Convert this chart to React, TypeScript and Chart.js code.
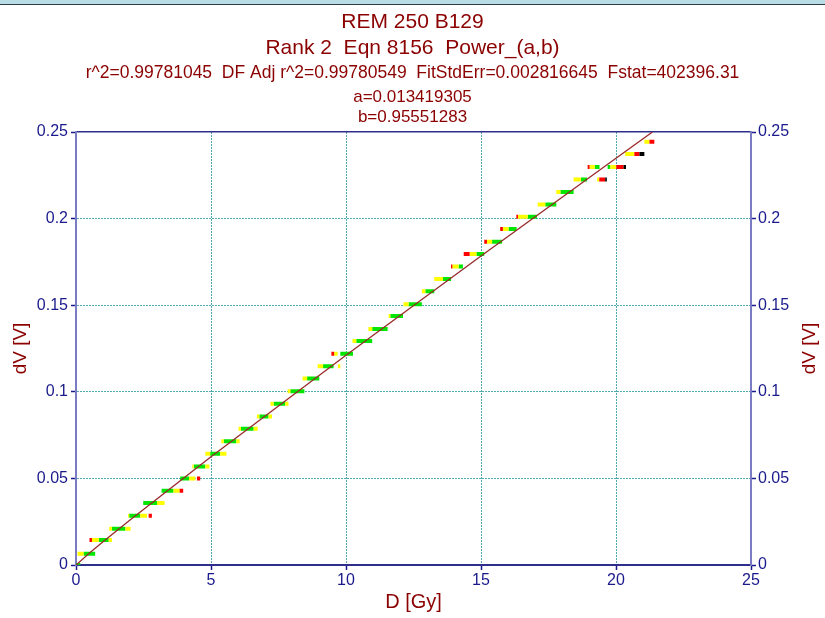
import { useEffect, useRef } from 'react';
import { Chart, registerables } from 'chart.js';

Chart.register(...registerables);

const titleLines = [
  'REM 250 B129',
  'Rank 2  Eqn 8156  Power_(a,b)',
  'r^2=0.99781045  DF Adj r^2=0.99780549  FitStdErr=0.002816645  Fstat=402396.31',
  'a=0.013419305',
  'b=0.95551283',
];
const xTitle = 'D [Gy]';
const yTitle = 'dV [V]';

// levels of the quantised dV readings
const levelV = [
  0, 0.0065, 0.0144, 0.021, 0.0285, 0.0358, 0.0429, 0.05, 0.0569, 0.0643,
  0.0715, 0.0787, 0.0858, 0.0931, 0.1003, 0.1077, 0.1147, 0.122, 0.1293, 0.1363,
  0.1438, 0.1506, 0.158, 0.1651, 0.1724, 0.1796, 0.1867, 0.194, 0.201, 0.2082,
  0.2154, 0.2226, 0.2298, 0.2373, 0.2443,
];

// [level index, D start, D end]
const greenSegs: [number, number, number][] = [
  [0, 0, 0.16], [1, 0.28, 0.71], [2, 0.84, 1.21], [3, 1.33, 1.83], [4, 1.97, 2.38],
  [5, 2.49, 3.0], [6, 3.17, 3.61], [7, 3.86, 4.19], [8, 4.36, 4.79], [9, 4.97, 5.34],
  [10, 5.47, 5.94], [11, 6.11, 6.58], [12, 6.79, 7.13], [13, 7.32, 7.75], [14, 7.94, 8.46],
  [15, 8.56, 9.01], [16, 9.15, 9.54], [17, 9.79, 10.26], [18, 10.38, 10.97], [19, 10.97, 11.54],
  [20, 11.64, 12.11], [21, 12.32, 12.81], [22, 12.94, 13.27], [23, 13.59, 13.89], [24, 14.17, 14.33],
  [25, 14.83, 15.12], [26, 15.41, 15.78], [27, 16.02, 16.32], [28, 16.73, 17.07], [29, 17.38, 17.79],
  [30, 17.94, 18.43], [31, 18.7, 18.93], [32, 19.21, 19.39], [32, 19.69, 19.79],
];
const yellowSegs: [number, number, number][] = [
  [1, 0.06, 0.28], [2, 0.59, 0.84], [2, 1.21, 1.33], [3, 1.23, 1.33], [3, 1.83, 2.02],
  [4, 1.93, 1.97], [4, 2.38, 2.63], [5, 3.0, 3.28], [6, 3.61, 3.84], [7, 4.19, 4.42],
  [8, 4.31, 4.36], [8, 4.79, 4.94], [9, 4.79, 4.97], [9, 5.34, 5.57], [10, 5.38, 5.47],
  [10, 5.94, 6.06], [11, 6.02, 6.11], [11, 6.58, 6.73], [12, 6.7, 6.79], [12, 7.13, 7.26],
  [13, 7.2, 7.32], [13, 7.75, 7.87], [14, 7.84, 7.94], [15, 8.39, 8.56], [16, 8.95, 9.15],
  [16, 9.7, 9.79], [17, 9.56, 9.69], [18, 10.24, 10.38], [19, 10.83, 10.97], [20, 11.58, 11.64],
  [21, 12.13, 12.32], [22, 12.81, 12.94], [23, 13.27, 13.59], [24, 13.94, 14.17], [25, 14.58, 14.83],
  [26, 15.22, 15.41], [27, 15.81, 16.02], [28, 16.37, 16.73], [29, 17.1, 17.38], [30, 17.79, 17.94],
  [31, 18.43, 18.7], [31, 19.3, 19.38], [32, 19.02, 19.21], [32, 19.79, 20.01], [33, 20.34, 20.68],
  [34, 21.05, 21.24],
];
const redSegs: [number, number, number][] = [
  [2, 0.5, 0.59], [4, 2.69, 2.81], [6, 3.84, 3.97], [7, 4.48, 4.6], [17, 9.46, 9.56],
  [24, 13.89, 13.94], [25, 14.36, 14.58], [26, 15.12, 15.22], [27, 15.71, 15.81], [28, 16.31, 16.37],
  [31, 19.38, 19.6], [32, 18.95, 19.02], [32, 20.01, 20.28], [33, 20.68, 20.87], [34, 21.24, 21.42],
];
const blackSegs: [number, number, number][] = [
  [31, 19.6, 19.66], [32, 20.28, 20.37], [33, 20.87, 21.05],
];

// fitted power curve
const fitD = [0, 0.5, 1, 2, 5, 10, 15, 20, 21.35];
const fitV = [0, 0.00692, 0.01342, 0.02602, 0.06246, 0.12113, 0.17843, 0.2349, 0.25];

const NAVY = '#1a1a8c';
const MAROON = '#8b0000';
const LIGHT_AXIS = '#7b7bc4';
const GRID = '#4fa9ad';
const FONT = '"Liberation Sans", Arial, sans-serif';

function segData(segs: [number, number, number][]) {
  const out: { x: number; y: number | null }[] = [];
  for (const [l, x1, x2] of segs) {
    out.push({ x: x1, y: levelV[l] }, { x: x2, y: levelV[l] }, { x: x2, y: null });
  }
  return out;
}

const textPlugin = {
  id: 'texts',
  beforeDraw(chart: any) {
    const ctx = chart.ctx;
    ctx.save();
    ctx.fillStyle = '#ffffff';
    ctx.fillRect(0, 0, chart.width, chart.height);
    ctx.fillStyle = '#b8dde4';
    ctx.fillRect(0, 0, chart.width, 4);
    ctx.fillStyle = '#2d3b40';
    ctx.fillRect(0, 4, chart.width, 1);
    ctx.restore();
  },
  afterDraw(chart: any) {
    const ctx = chart.ctx;
    const cx = chart.width / 2;
    ctx.save();
    ctx.fillStyle = MAROON;
    ctx.textAlign = 'center';
    ctx.textBaseline = 'middle';
    const sizes = [21, 21, 17.5, 17, 17];
    const ys = [22, 48, 73, 97, 117];
    titleLines.forEach((t, i) => {
      ctx.font = `${sizes[i]}px ${FONT}`;
      ctx.fillText(t, cx, ys[i]);
    });
    const area = chart.chartArea;
    ctx.font = `20px ${FONT}`;
    ctx.fillText(xTitle, (area.left + area.right) / 2, 602);
    ctx.font = `19px ${FONT}`;
    const my = (area.top + area.bottom) / 2;
    ctx.save();
    ctx.translate(21, my);
    ctx.rotate(-Math.PI / 2);
    ctx.fillText(yTitle, 0, 0);
    ctx.restore();
    ctx.save();
    ctx.translate(810, my);
    ctx.rotate(-Math.PI / 2);
    ctx.fillText(yTitle, 0, 0);
    ctx.restore();
    ctx.restore();
  },
};

export default function App() {
  const ref = useRef<HTMLCanvasElement | null>(null);
  useEffect(() => {
    if (!ref.current) return;
    const tickFont = { family: FONT, size: 16 };
    const gridColor = (ctx: any) => {
      const n = ctx.scale ? ctx.scale.ticks.length : 0;
      return ctx.index === 0 || ctx.index === n - 1 ? 'rgba(0,0,0,0)' : GRID;
    };
    const segStyle = (color: string) => ({
      borderColor: color,
      backgroundColor: color,
      borderWidth: 4,
      borderCapStyle: 'butt' as const,
      pointRadius: 0,
      pointHoverRadius: 0,
      spanGaps: false,
      tension: 0,
      fill: false,
    });
    const chart = new Chart(ref.current, {
      type: 'line',
      data: {
        datasets: [
          {
            label: 'fit',
            data: fitD.map((d, i) => ({ x: d, y: fitV[i] })),
            borderColor: '#9a2a2a',
            borderWidth: 1.3,
            pointRadius: 0,
            tension: 0,
            fill: false,
          },
          { label: 'black', data: segData(blackSegs), ...segStyle('#000000') },
          { label: 'red', data: segData(redSegs), ...segStyle('#ff0000') },
          { label: 'yellow', data: segData(yellowSegs), ...segStyle('#ffff00') },
          { label: 'green', data: segData(greenSegs), ...segStyle('#00e600') },
        ] as any,
      },
      options: {
        responsive: false,
        animation: false,
        events: [],
        layout: { padding: { top: 132, left: 0, right: 0, bottom: 0 } },
        plugins: {
          legend: { display: false },
          tooltip: { enabled: false },
          title: { display: false },
        },
        scales: {
          x: {
            type: 'linear',
            position: 'bottom',
            min: 0,
            max: 25,
            ticks: { stepSize: 5, font: tickFont, color: NAVY, padding: 1, maxRotation: 0, autoSkip: false },
            grid: { color: gridColor, tickColor: NAVY, tickLength: 5, lineWidth: 1, tickWidth: 1.5 },
            border: { color: '#2e2e8c', width: 2, dash: [2, 1] },
            afterFit: (s: any) => { s.height = 53; },
          },
          x2: {
            type: 'linear',
            position: 'top',
            min: 0,
            max: 25,
            ticks: { display: false },
            grid: { display: false, drawTicks: false },
            border: { color: '#2e2e8c', width: 1.5 },
            afterFit: (s: any) => { s.height = 0; },
          },
          y: {
            type: 'linear',
            position: 'left',
            min: 0,
            max: 0.25,
            ticks: {
              stepSize: 0.05,
              font: tickFont,
              color: NAVY,
              padding: 3,
              callback: (v: any) => String(Number(Number(v).toFixed(2))),
            },
            grid: { color: gridColor, tickColor: NAVY, tickLength: 5, lineWidth: 1, tickWidth: 1.5 },
            border: { color: LIGHT_AXIS, width: 2, dash: [2, 1] },
            afterFit: (s: any) => { s.width = 76; },
          },
          y2: {
            type: 'linear',
            position: 'right',
            min: 0,
            max: 0.25,
            ticks: {
              stepSize: 0.05,
              font: tickFont,
              color: NAVY,
              padding: 2,
              callback: (v: any) => String(Number(Number(v).toFixed(2))),
            },
            grid: { drawOnChartArea: false, color: 'rgba(0,0,0,0)', tickColor: NAVY, tickLength: 5, tickWidth: 1.5 },
            border: { color: LIGHT_AXIS, width: 2 },
            afterFit: (s: any) => { s.width = 74; },
          },
        },
      } as any,
      plugins: [textPlugin],
    });
    return () => chart.destroy();
  }, []);
  return (
    <div style={{ position: 'absolute', left: 0, top: 0, width: 825, height: 618 }}>
      <canvas ref={ref} width={825} height={618} style={{ display: 'block' }} />
    </div>
  );
}
